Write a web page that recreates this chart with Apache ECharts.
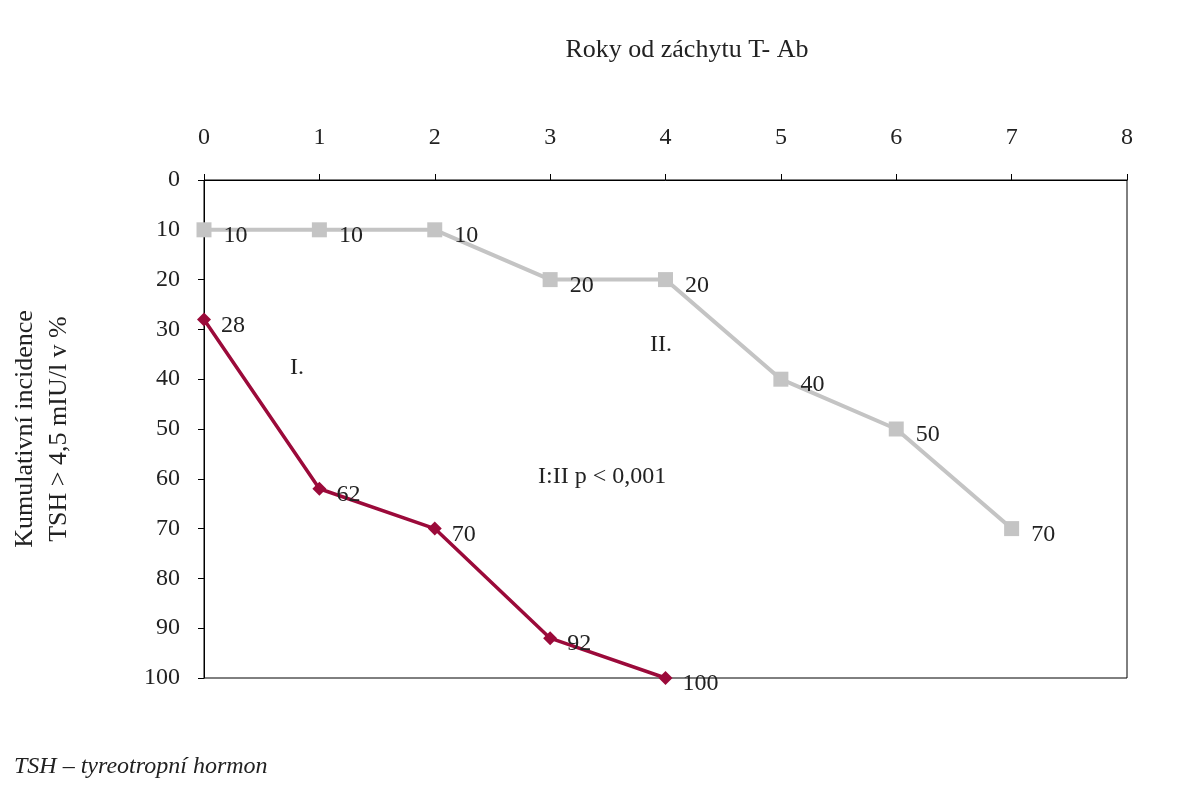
<!DOCTYPE html>
<html>
<head>
    <meta charset="utf-8">
    <title>Kumulativní incidence</title>
    <script src="https://cdn.jsdelivr.net/npm/echarts@6/dist/echarts.min.js"></script>
    <style>body{margin:0;background:#fff}#main{width:1182px;height:800px}</style>
</head>
<body>
<div id="main"></div>
<script type="text/javascript">
// data
var yearsI = [0, 1, 2, 3, 4];
var valuesI = [28, 62, 70, 92, 100];
var yearsII = [0, 1, 2, 3, 4, 5, 6, 7];
var valuesII = [10, 10, 10, 20, 20, 40, 50, 70];

var font = 'Liberation Serif';
var myChart = echarts.init(document.getElementById('main'));

function pairs(xs, ys) { return xs.map(function (x, i) { return [x, ys[i]]; }); }

var option = {
    backgroundColor: '#fff',
    textStyle: {fontFamily: font},
    grid: {left: 186, right: 55, top: 180, bottom: 122, show: true, borderColor: '#000', borderWidth: 1},
    title: {
        text: 'Roky od záchytu T- Ab', left: 682, top: 32, textAlign: 'center',
        textStyle: {fontFamily: font, fontSize: 26, fontWeight: 'normal', color: '#222'}
    },
    xAxis: {
        type: 'value', position: 'top', min: 0, max: 8, interval: 1,
        axisLine: {lineStyle: {color: '#000'}},
        axisTick: {show: true, length: 6, lineStyle: {color: '#000'}},
        axisLabel: {fontSize: 24, color: '#222', margin: 30, fontFamily: font},
        splitLine: {show: false}
    },
    yAxis: {
        type: 'value', inverse: true, min: 0, max: 100, interval: 10,
        name: 'Kumulativní incidence\nTSH > 4,5 mIU/l v %', nameLocation: 'middle', nameGap: 128,
        nameTextStyle: {fontSize: 26, color: '#222', fontFamily: font, lineHeight: 34},
        axisLine: {show: true, lineStyle: {color: '#000'}},
        axisTick: {show: true, length: 6, lineStyle: {color: '#000'}},
        axisLabel: {fontSize: 24, color: '#222', margin: 24, fontFamily: font},
        splitLine: {show: false}
    },
    series: [
        {
            name: 'II', type: 'line', data: pairs(yearsII, valuesII),
            symbol: 'rect', symbolSize: 15,
            lineStyle: {color: '#c4c4c4', width: 4},
            itemStyle: {color: '#c4c4c4'},
            label: {show: true, position: 'right', distance: 12, offset: [0, 6], fontSize: 24, color: '#222', fontFamily: font}
        },
        {
            name: 'I', type: 'line', data: pairs(yearsI, valuesI),
            symbol: 'diamond', symbolSize: 14,
            lineStyle: {color: '#9b0a3a', width: 3.5},
            itemStyle: {color: '#9b0a3a'},
            label: {show: true, position: 'right', distance: 10, offset: [0, 6], fontSize: 24, color: '#222', fontFamily: font}
        }
    ],
    graphic: [
        {type: 'text', left: 290, top: 356, style: {text: 'I.', font: '24px "Liberation Serif"', fill: '#222'}},
        {type: 'text', left: 650, top: 333, style: {text: 'II.', font: '24px "Liberation Serif"', fill: '#222'}},
        {type: 'text', left: 538, top: 465, style: {text: 'I:II p < 0,001', font: '24px "Liberation Serif"', fill: '#222'}},
        {type: 'text', left: 14, top: 755, style: {text: 'TSH – tyreotropní hormon', font: 'italic 24px "Liberation Serif"', fill: '#222'}}
    ]
};
myChart.setOption(option);
</script>
</body>
</html>
